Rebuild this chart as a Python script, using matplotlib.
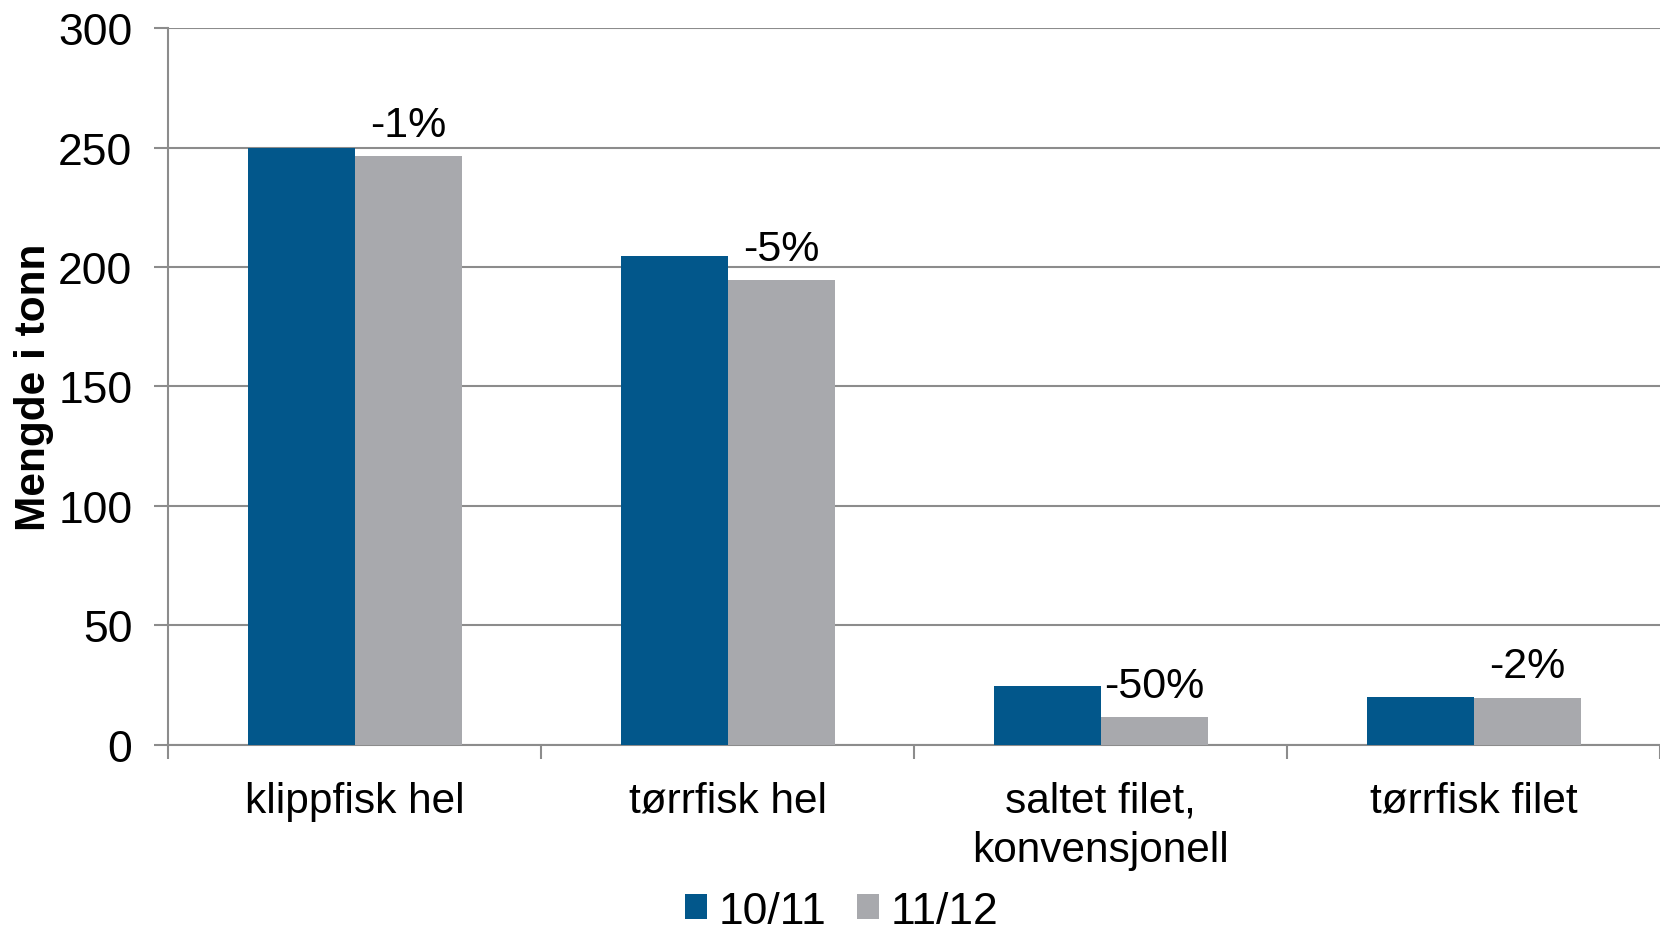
import numpy as np
import matplotlib.pyplot as plt

plt.rcParams['font.family'] = ['Liberation Sans', 'DejaVu Sans']

categories = ['klippfisk hel', 'tørrfisk hel', 'saltet filet,\nkonvensjonell', 'tørrfisk filet']
season_labels = ['10/11', '11/12']
values_1011 = [250.0, 204.5, 24.5, 20.2]
values_1112 = [246.5, 194.7, 11.8, 19.8]
change_labels = ['-1%', '-5%', '-50%', '-2%']

blue = '#02578B'
grey = '#A8A9AD'
line_grey = '#8C8C8C'

fig = plt.figure(figsize=(16.6, 9.37), dpi=100)
ax = fig.add_axes([0.1015, 0.204, 0.8985, 0.765])

x = np.arange(len(categories))
w = 0.287
b1 = ax.bar(x - w / 2, values_1011, w, color=blue, label=season_labels[0], zorder=3)
b2 = ax.bar(x + w / 2, values_1112, w, color=grey, label=season_labels[1], zorder=3)

# percentage change above the 11/12 bars
for xi, v, lab in zip(x, values_1112, change_labels):
    ax.annotate(lab, (xi + w / 2, v), xytext=(0, 8), textcoords='offset points',
                ha='center', va='bottom', fontsize=31)

ax.set_xlim(-0.5, len(categories) - 0.5)
ax.set_ylim(0, 300)
ax.set_yticks(range(0, 301, 50))
ax.yaxis.grid(True, color=line_grey, linewidth=1.5, zorder=0)

# category labels centred, tick marks on the boundaries
ax.set_xticks(x)
ax.set_xticklabels(categories, fontsize=30.5, linespacing=1.28)
ax.tick_params(axis='x', length=0, pad=26)
ax.set_xticks(np.arange(-0.5, len(categories), 1.0), minor=True)
ax.tick_params(axis='x', which='minor', length=10, width=1.5, color=line_grey)
ax.tick_params(axis='y', labelsize=32, length=10, width=1.5, color=line_grey, pad=16)

for s in ['top', 'right']:
    ax.spines[s].set_visible(False)
for s in ['left', 'bottom']:
    ax.spines[s].set_color(line_grey)
    ax.spines[s].set_linewidth(1.5)

ax.set_ylabel('Mengde i tonn', fontsize=30.5, fontweight='bold')
ax.yaxis.set_label_coords(-0.077, 0.5)

fig.legend(handles=[b1, b2], loc='lower center', bbox_to_anchor=(0.507, -0.038), ncol=2,
           frameon=False, fontsize=32, handlelength=0.5, handleheight=0.5,
           handletextpad=0.25, columnspacing=0.7)

fig.savefig('out.png', dpi=100)
